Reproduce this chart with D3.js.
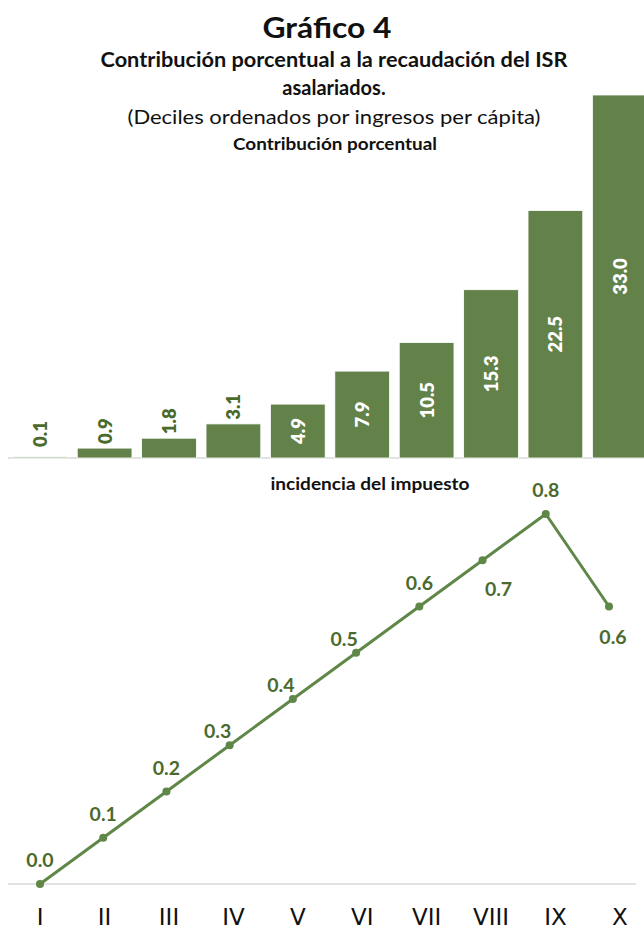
<!DOCTYPE html>
<html lang="es">
<head>
<meta charset="utf-8">
<script src="https://cdn.jsdelivr.net/npm/d3@7"></script>
<style>
  html, body { margin: 0; padding: 0; background: #fff; }
  svg { display: block; font-family: Lato, "Open Sans", sans-serif; }
</style>
</head>
<body>
<svg id="chart" width="644" height="930"></svg>
<script>
// Deciles ordered by per-capita income
const deciles = ["I", "II", "III", "IV", "V", "VI", "VII", "VIII", "IX", "X"];
// Percentage contribution to ISR (wage earners) collection
const contribution = [0.1, 0.9, 1.8, 3.1, 4.9, 7.9, 10.5, 15.3, 22.5, 33.0];
// Tax incidence by decile
const incidence = [0.0, 0.1, 0.2, 0.3, 0.4, 0.5, 0.6, 0.7, 0.8, 0.6];
// Where each incidence label sits relative to its point
const incidencePlacement = ["above", "above", "above", "upLeft", "upLeft", "upLeft", "above", "downRight", "above", "below"];

const barColor = "#62824a";
const lineColor = "#5f8747";
const labelGreen = "#4b6a2e";

const svg = d3.select("#chart");

// Titles
svg.append("text").attr("x", 327).attr("y", 38).attr("text-anchor", "middle")
  .attr("font-size", 29).attr("font-weight", 700).attr("fill", "#111")
  .attr("textLength", 129).attr("lengthAdjust", "spacingAndGlyphs")
  .text("Gráfico 4");
svg.append("text").attr("x", 334).attr("y", 67).attr("text-anchor", "middle")
  .attr("font-size", 20).attr("font-weight", 700).attr("fill", "#111")
  .attr("textLength", 467).attr("lengthAdjust", "spacingAndGlyphs")
  .text("Contribución porcentual a la recaudación del ISR");
svg.append("text").attr("x", 334).attr("y", 95).attr("text-anchor", "middle")
  .attr("font-size", 20).attr("font-weight", 700).attr("fill", "#111")
  .text("asalariados.");
svg.append("text").attr("x", 334).attr("y", 124).attr("text-anchor", "middle")
  .attr("font-size", 20).attr("fill", "#111")
  .attr("textLength", 413).attr("lengthAdjust", "spacingAndGlyphs")
  .text("(Deciles ordenados por ingresos per  cápita)");
svg.append("text").attr("x", 335).attr("y", 150).attr("text-anchor", "middle")
  .attr("font-size", 17).attr("font-weight", 700).attr("fill", "#111")
  .attr("textLength", 204).attr("lengthAdjust", "spacingAndGlyphs")
  .text("Contribución porcentual");

// ---- Bar panel: contribution ----
const xBar = d3.scaleBand().domain(deciles).range([8, 652])
  .paddingInner(0.15).paddingOuter(0.075);
const yBar = d3.scaleLinear().domain([0, 33]).range([458, 95]);

const barG = svg.append("g");
barG.append("line").attr("x1", 8).attr("x2", 644)
  .attr("y1", yBar(0)).attr("y2", yBar(0))
  .attr("stroke", "#d9d9d9").attr("stroke-width", 1.5);

barG.selectAll("rect").data(contribution).join("rect")
  .attr("x", (d, i) => xBar(deciles[i]))
  .attr("y", d => yBar(d))
  .attr("width", xBar.bandwidth())
  .attr("height", d => yBar(0) - yBar(d))
  .attr("fill", barColor)
  .attr("stroke", "#ffffff").attr("stroke-width", 0.8);

// Value labels: centred inside when the bar is tall enough, else just above it
const labelLen = 32;
barG.selectAll("text.val").data(contribution).join("text")
  .attr("class", "val")
  .each(function (d, i) {
    const cx = xBar(deciles[i]) + xBar.bandwidth() / 2;
    const top = yBar(d), base = yBar(0);
    const inside = base - top > labelLen + 12;
    const cy = inside ? (top + base) / 2 : Math.min(top - 3, base - 10) - labelLen / 2 + 2;
    d3.select(this)
      .attr("transform", `translate(${cx + 7},${cy}) rotate(-90)`)
      .attr("text-anchor", "middle")
      .attr("font-size", 18.5).attr("font-weight", 800)
      .attr("fill", inside ? "#ffffff" : labelGreen)
      .text(d.toFixed(1));
  });

// ---- Line panel: tax incidence ----
svg.append("text").attr("x", 370).attr("y", 490).attr("text-anchor", "middle")
  .attr("font-size", 17).attr("font-weight", 700).attr("fill", "#111")
  .attr("textLength", 199).attr("lengthAdjust", "spacingAndGlyphs")
  .text("incidencia del impuesto");

const xLine = d3.scalePoint().domain(deciles).range([40, 609]);
const yLine = d3.scaleLinear().domain([0, 0.8]).range([884, 514]);

const lineG = svg.append("g");
lineG.append("line").attr("x1", 8).attr("x2", 636)
  .attr("y1", yLine(0)).attr("y2", yLine(0))
  .attr("stroke", "#d9d9d9").attr("stroke-width", 1.5);

const line = d3.line().x((d, i) => xLine(deciles[i])).y(d => yLine(d));
lineG.append("path").datum(incidence)
  .attr("d", line).attr("fill", "none")
  .attr("stroke", lineColor).attr("stroke-width", 3)
  .attr("stroke-linejoin", "round");

lineG.selectAll("circle").data(incidence).join("circle")
  .attr("cx", (d, i) => xLine(deciles[i]))
  .attr("cy", d => yLine(d))
  .attr("r", 4).attr("fill", lineColor);

const offsets = {
  above: [0, -17],
  upLeft: [-12, -7],
  downRight: [16, 36],
  below: [4, 37]
};
lineG.selectAll("text").data(incidence).join("text")
  .attr("x", (d, i) => xLine(deciles[i]) + offsets[incidencePlacement[i]][0])
  .attr("y", (d, i) => yLine(d) + offsets[incidencePlacement[i]][1])
  .attr("text-anchor", "middle")
  .attr("font-size", 19.5).attr("font-weight", 700).attr("fill", labelGreen)
  .text(d => d.toFixed(1));

// Category axis under the line panel
const axis = d3.axisBottom(xBar).tickSize(0).tickPadding(0);
const axisG = svg.append("g").attr("transform", "translate(0,909)").call(axis);
axisG.select(".domain").remove();
axisG.selectAll("text")
  .attr("dy", "0.71em")
  .style("font-family", "'DejaVu Sans', sans-serif")
  .attr("font-size", 23).attr("font-weight", 400).attr("fill", "#111");
</script>
</body>
</html>
